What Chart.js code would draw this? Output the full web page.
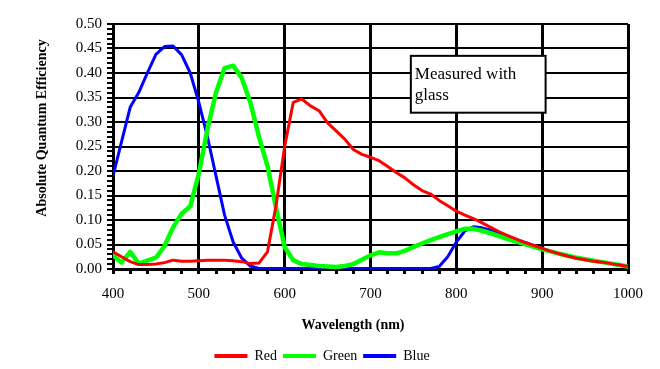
<!DOCTYPE html>
<html>
<head>
<meta charset="utf-8">
<script src="https://cdn.jsdelivr.net/npm/chart.js@4.4.1/dist/chart.umd.min.js"></script>
<style>
  body { margin: 0; background: #fff; }
  #wrap { width: 660px; height: 369px; }
</style>
</head>
<body>
<div id="wrap"><canvas id="qe" width="660" height="369"></canvas></div>
<script>
const wavelengths = [
  400, 410, 420, 430, 440, 450, 460, 470, 480, 490,
  500, 510, 520, 530, 540, 550, 560, 570, 580, 590,
  600, 610, 620, 630, 640, 650, 660, 670, 680, 690,
  700, 710, 720, 730, 740, 750, 760, 770, 780, 790,
  800, 810, 820, 830, 840, 850, 860, 870, 880, 890,
  900, 910, 920, 930, 940, 950, 960, 970, 980, 990, 1000
];
const redQE = [
  0.035, 0.025, 0.015, 0.009, 0.009, 0.010, 0.013, 0.018, 0.016, 0.016,
  0.017, 0.018, 0.018, 0.018, 0.017, 0.015, 0.011, 0.012, 0.035, 0.130,
  0.250, 0.340, 0.347, 0.333, 0.323, 0.298, 0.282, 0.265, 0.244, 0.234,
  0.228, 0.221, 0.209, 0.197, 0.186, 0.172, 0.160, 0.153, 0.140, 0.129,
  0.118, 0.110, 0.103, 0.094, 0.085, 0.076, 0.068, 0.061, 0.054, 0.048,
  0.042, 0.036, 0.031, 0.026, 0.022, 0.019, 0.016, 0.014, 0.011, 0.008, 0.005
];
const greenQE = [
  0.028, 0.013, 0.035, 0.011, 0.017, 0.023, 0.047, 0.085, 0.113, 0.128,
  0.195, 0.285, 0.360, 0.410, 0.415, 0.390, 0.340, 0.270, 0.210, 0.125,
  0.045, 0.018, 0.010, 0.008, 0.006, 0.005, 0.004, 0.006, 0.010, 0.019,
  0.028, 0.034, 0.032, 0.032, 0.037, 0.045, 0.052, 0.059, 0.065, 0.071,
  0.077, 0.082, 0.082, 0.078, 0.073, 0.067, 0.061, 0.056, 0.051, 0.045,
  0.040, 0.036, 0.031, 0.027, 0.023, 0.020, 0.017, 0.014, 0.011, 0.008, 0.005
];
const blueQE = [
  0.190, 0.260, 0.330, 0.360, 0.400, 0.438, 0.454, 0.455, 0.437, 0.400,
  0.340, 0.270, 0.190, 0.110, 0.055, 0.022, 0.006, 0.001, 0.001, 0.001,
  0.001, 0.001, 0.001, 0.001, 0.001, 0.001, 0.001, 0.001, 0.001, 0.001,
  0.001, 0.001, 0.001, 0.001, 0.001, 0.001, 0.001, 0.001, 0.005, 0.025,
  0.055, 0.078, 0.086, 0.084, 0.079, 0.073, 0.066, 0.060, 0.054, 0.048,
  0.042, 0.036, 0.031, 0.027, 0.023, 0.020, 0.017, 0.014, 0.011, 0.008, 0.005
];
const xMajor = [400, 500, 600, 700, 800, 900, 1000];
const yMajor = [0, 0.05, 0.1, 0.15, 0.2, 0.25, 0.3, 0.35, 0.4, 0.45, 0.5];

const red = "#ff0000";
const green = "#00ff00";
const blue = "#0000ff";
const serif = "'Liberation Serif', 'Times New Roman', serif";

const isMajorY = v => yMajor.some(m => Math.abs(m - v) < 1e-6);
const isMajorX = v => xMajor.includes(Math.round(v));

const points = vals => wavelengths.map((w, i) => ({ x: w, y: vals[i] }));

// note box + axis titles (titles sit off-centre in the original, so drawn by hand)
const notes = {
  id: "notes",
  afterDatasetsDraw(chart) {
    const { ctx, scales: { x, y } } = chart;
    const left = x.getPixelForValue(747);
    const right = x.getPixelForValue(904);
    const top = y.getPixelForValue(0.435);
    const bottom = y.getPixelForValue(0.319);
    ctx.save();
    ctx.fillStyle = "#fff";
    ctx.fillRect(left, top, right - left, bottom - top);
    ctx.strokeStyle = "#000";
    ctx.lineWidth = 2;
    ctx.strokeRect(left, top, right - left, bottom - top);
    ctx.fillStyle = "#000";
    ctx.font = "17px " + serif;
    ctx.textBaseline = "alphabetic";
    ctx.fillText("Measured with", left + 4, top + 23);
    ctx.fillText("glass", left + 4, top + 44);
    ctx.restore();
  },
  afterDraw(chart) {
    const ctx = chart.ctx;
    ctx.save();
    ctx.fillStyle = "#000";
    ctx.font = "bold 14px " + serif;
    ctx.textAlign = "center";
    ctx.textBaseline = "middle";
    ctx.fillText("Wavelength (nm)", 353, 325);
    ctx.translate(42, 128);
    ctx.rotate(-Math.PI / 2);
    ctx.fillText("Absolute Quantum Efficiency", 0, 0);
    ctx.restore();
  }
};

new Chart("qe", {
  type: "line",
  data: {
    datasets: [
      { label: "Red", data: points(redQE), borderColor: red, backgroundColor: red, borderWidth: 3 },
      { label: "Green", data: points(greenQE), borderColor: green, backgroundColor: green, borderWidth: 4.5 },
      { label: "Blue", data: points(blueQE), borderColor: blue, backgroundColor: blue, borderWidth: 3 }
    ]
  },
  options: {
    responsive: false,
    animation: false,
    layout: { padding: { top: 24, right: 32, left: 16, bottom: -4 } },
    elements: { point: { radius: 0 }, line: { tension: 0, borderJoinStyle: "round", borderCapStyle: "round" } },
    scales: {
      x: {
        type: "linear",
        min: 400,
        max: 1000,
        afterFit(s) { s.height = 74; },
        ticks: {
          stepSize: 20,
          autoSkip: false,
          maxRotation: 0,
          padding: 11,
          color: "#000",
          font: { family: serif, size: 15 },
          callback: v => isMajorX(v) ? String(v) : ""
        },
        grid: {
          color: c => c.tick && isMajorX(c.tick.value) ? "#000" : "rgba(0,0,0,0)",
          lineWidth: 3,
          tickColor: "#000",
          tickLength: 5
        },
        border: { color: "#000", width: 3 }
      },
      y: {
        min: 0,
        max: 0.5,
        afterFit(s) { s.width = 97; },
        ticks: {
          stepSize: 0.01,
          autoSkip: false,
          padding: 5,
          color: "#000",
          font: { family: serif, size: 15 },
          callback: v => isMajorY(v) ? v.toFixed(2) : ""
        },
        grid: {
          color: c => c.tick && isMajorY(c.tick.value) ? "#000" : "rgba(0,0,0,0)",
          lineWidth: 2,
          tickColor: "#000",
          tickLength: 6
        },
        border: { color: "#000", width: 3 }
      }
    },
    plugins: {
      tooltip: { enabled: false },
      legend: {
        position: "bottom",
        labels: {
          boxWidth: 33,
          boxHeight: 4,
          padding: 6,
          color: "#000",
          font: { family: serif, size: 14 },
          generateLabels(chart) {
            return Chart.defaults.plugins.legend.labels.generateLabels(chart)
              .map(l => ({ ...l, fillStyle: l.strokeStyle, lineWidth: 0 }));
          }
        }
      }
    }
  },
  plugins: [notes]
});
</script>
</body>
</html>
